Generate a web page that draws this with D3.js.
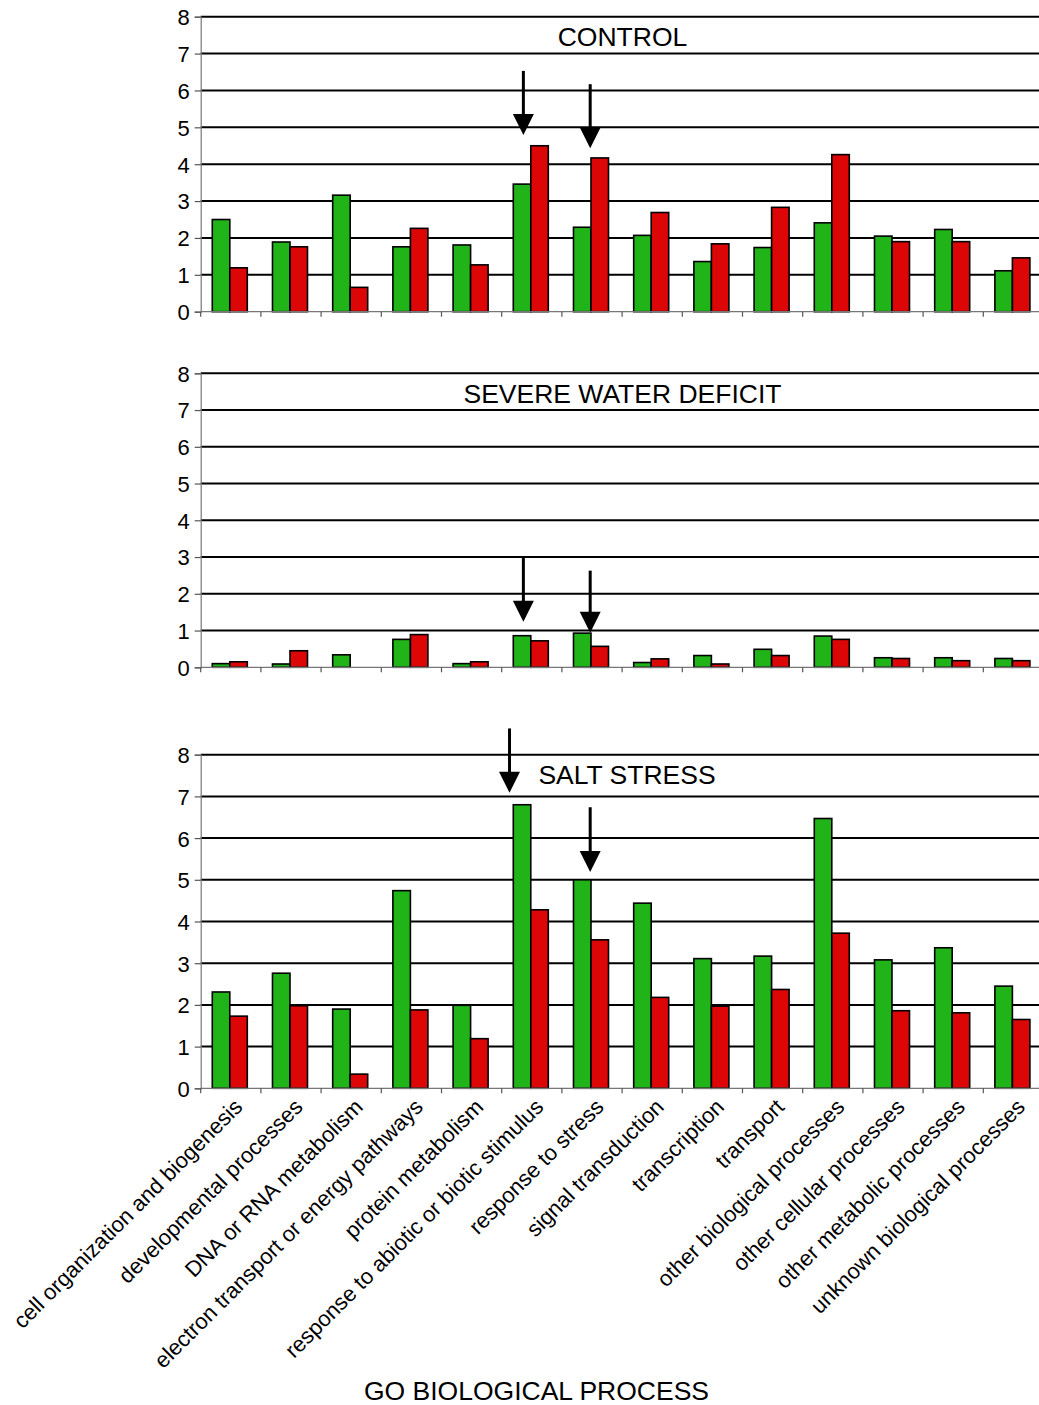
<!DOCTYPE html>
<html><head><meta charset="utf-8">
<script src="https://cdn.jsdelivr.net/npm/d3@7"></script>
<style>body{margin:0;background:#fff}svg{display:block;font-family:"Liberation Sans",Arial,sans-serif}</style>
</head><body>
<svg id="chart" width="1039" height="1405"></svg>
<script>
const categories = ["cell organization and biogenesis","developmental processes","DNA or RNA metabolism","electron transport or energy pathways","protein metabolism","response to abiotic or biotic stimulus","response to stress","signal transduction","transcription","transport","other biological processes","other cellular processes","other metabolic processes","unknown biological processes"];
const yTicks = [0,1,2,3,4,5,6,7,8];
const panelTitles = ["CONTROL","SEVERE WATER DEFICIT","SALT STRESS"];
const seriesNames = ["green","red"];
const controlGreen = [2.50,1.89,3.16,1.76,1.81,3.46,2.29,2.07,1.36,1.74,2.41,2.05,2.23,1.11];
const controlRed   = [1.19,1.76,0.66,2.26,1.27,4.50,4.17,2.69,1.84,2.83,4.26,1.90,1.90,1.46];
const droughtGreen = [0.10,0.09,0.34,0.76,0.10,0.86,0.93,0.13,0.32,0.49,0.85,0.26,0.26,0.24];
const droughtRed   = [0.15,0.45,0.00,0.89,0.15,0.72,0.57,0.23,0.09,0.32,0.76,0.24,0.18,0.18];
const saltGreen    = [2.31,2.76,1.90,4.74,1.99,6.80,5.00,4.44,3.11,3.17,6.47,3.08,3.37,2.45];
const saltRed      = [1.73,1.98,0.34,1.88,1.19,4.28,3.56,2.18,1.97,2.37,3.72,1.86,1.81,1.65];
// arrows: [category index, offset within band (0..1), value at tail, value at tip]
const controlArrows = [[5,0.36,6.53,4.79],[6,0.47,6.17,4.43]];
const droughtArrows = [[5,0.36,2.98,1.24],[6,0.47,2.63,0.94]];
const saltArrows    = [[5,0.13,8.63,7.09],[6,0.47,6.74,5.19]];
const xAxisTitle = "GO BIOLOGICAL PROCESS";

const colors = {green:"#20b418", red:"#dc0606"};
const svg = d3.select("#chart");
const x0 = d3.scaleBand().domain(categories).range([200.7, 1043.5]).padding(0);
const x1 = d3.scaleBand().domain(seriesNames).range([0, x0.bandwidth()]).paddingInner(0).paddingOuter(0.72).align(0.46);

const panels = [
  {title: panelTitles[0], green: controlGreen, red: controlRed, arrows: controlArrows, top: 16.7, bottom: 311.7, tx: 622.5},
  {title: panelTitles[1], green: droughtGreen, red: droughtRed, arrows: droughtArrows, top: 373.3, bottom: 667.3, tx: 622.5},
  {title: panelTitles[2], green: saltGreen, red: saltRed, arrows: saltArrows, top: 754.7, bottom: 1088.3, tx: 627}
];

panels.forEach((p, pi) => {
  const y = d3.scaleLinear().domain([0, 8]).range([p.bottom, p.top]);
  const g = svg.append("g");
  g.selectAll("line.grid").data(yTicks.filter(d => d > 0)).join("line")
    .attr("x1", 200.7).attr("x2", 1039).attr("y1", d => y(d)).attr("y2", d => y(d))
    .attr("stroke", "#000").attr("stroke-width", 2);
  const ya = g.append("g").attr("transform", "translate(200.7,0)")
    .call(d3.axisLeft(y).tickValues(yTicks).tickSize(6).tickPadding(5).tickFormat(d3.format("d")));
  ya.select(".domain").attr("stroke", "#777").attr("stroke-width", 1.2);
  ya.selectAll(".tick line").attr("stroke", "#555").attr("stroke-width", 1.2);
  ya.selectAll("text").attr("font-size", 22).attr("fill", "#000").attr("font-family", "Liberation Sans, Arial, sans-serif").attr("dy", "0.36em");
  const data = categories.map((c, i) => ({c, vals: [{k: "green", v: p.green[i]}, {k: "red", v: p.red[i]}]}));
  const grp = g.selectAll("g.cat").data(data).join("g").attr("transform", d => `translate(${x0(d.c)},0)`);
  grp.selectAll("rect").data(d => d.vals.filter(v => v.v > 0)).join("rect")
    .attr("x", d => x1(d.k)).attr("width", x1.bandwidth())
    .attr("y", d => y(d.v)).attr("height", d => y(0) - y(d.v))
    .attr("fill", d => colors[d.k]).attr("stroke", "#000").attr("stroke-width", 1.6);
  const xa = g.append("g").attr("transform", `translate(0,${p.bottom})`);
  xa.append("line").attr("x1", 200.7).attr("x2", 1039).attr("stroke", "#777").attr("stroke-width", 1.2);
  const bounds = categories.map(c => x0(c)).concat([x0.range()[1]]);
  xa.selectAll("line.t").data(bounds).join("line").attr("class", "t")
    .attr("x1", d => d).attr("x2", d => d).attr("y1", 0).attr("y2", 5)
    .attr("stroke", "#555").attr("stroke-width", 1.2);
  g.append("text").attr("x", p.tx).attr("y", p.top + 29.5).attr("text-anchor", "middle")
    .attr("font-size", 26.5).text(p.title);
  p.arrows.forEach(a => {
    const ax = x0(categories[a[0]]) + a[1] * x0.bandwidth();
    const yt = y(a[2]), yp = y(a[3]);
    g.append("line").attr("x1", ax).attr("x2", ax).attr("y1", yt).attr("y2", yp - 12)
      .attr("stroke", "#000").attr("stroke-width", 3);
    g.append("path").attr("d", `M${ax - 10.5},${yp - 21}L${ax + 10.5},${yp - 21}L${ax},${yp}Z`).attr("fill", "#000");
  });
  if (pi === 2) {
    g.selectAll("text.xl").data(categories).join("text").attr("class", "xl")
      .attr("transform", d => `translate(${x0(d) + x0.bandwidth() / 2 + 13},${p.bottom + 20}) rotate(-45)`)
      .attr("text-anchor", "end").attr("font-size", 22).text(d => d);
  }
});
svg.append("text").attr("x", 536.5).attr("y", 1400).attr("text-anchor", "middle").attr("font-size", 26.5).text(xAxisTitle);
</script>
</body></html>
